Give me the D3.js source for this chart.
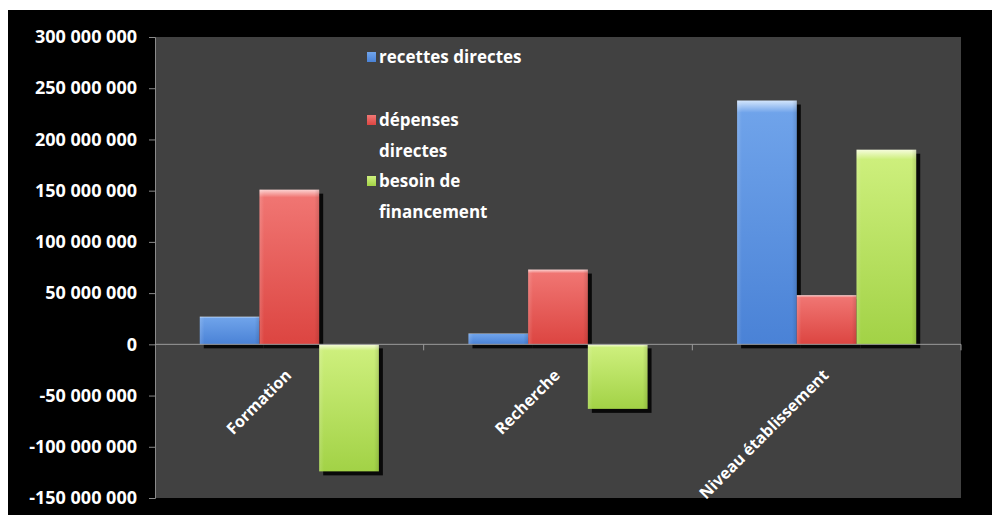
<!DOCTYPE html>
<html>
<head>
<meta charset="utf-8">
<script src="https://cdn.jsdelivr.net/npm/d3@7"></script>
<style>
  html, body { margin: 0; padding: 0; background: #fff; }
  svg { display: block; }
</style>
</head>
<body>
<svg id="chart" width="992" height="515"></svg>
<script>
// DATA
const categories = ["Formation", "Recherche", "Niveau établissement"];
const seriesNames = ["recettes directes", "dépenses directes", "besoin de financement"];
const recettes = [27000000, 10500000, 238000000];
const depenses = [151000000, 73000000, 48000000];
const besoin = [-124000000, -63000000, 190000000];
const yTicks = [-150000000, -100000000, -50000000, 0, 50000000, 100000000, 150000000, 200000000, 250000000, 300000000];

const values = [recettes, depenses, besoin];
const colors = [
  { top: "#d3e5fc", mid: "#6fa3ea", bot: "#4a82d6" },
  { top: "#fcd3d2", mid: "#f07572", bot: "#dc4541" },
  { top: "#f6fcdc", mid: "#cdef7c", bot: "#a2d246" }
];

const svg = d3.select("#chart");
const W = 992, H = 515;
const plot = { left: 155, right: 961, top: 37, bottom: 498 };
const font = "'Open Sans', sans-serif";

// backgrounds
svg.append("rect").attr("x", 8).attr("y", 10).attr("width", W - 8).attr("height", H - 10).attr("fill", "#000");
svg.append("rect")
  .attr("x", plot.left).attr("y", plot.top)
  .attr("width", plot.right - plot.left).attr("height", plot.bottom - plot.top)
  .attr("fill", "#414141");

// SCALES
const y = d3.scaleLinear().domain([-150000000, 300000000]).range([plot.bottom, plot.top]);
const x0 = d3.scaleBand().domain(categories).range([plot.left, plot.right]).padding(0);
const x1 = d3.scaleBand().domain(d3.range(3)).range([0, x0.bandwidth()]).paddingInner(0).paddingOuter(0.75);

const fr = d3.formatLocale({ decimal: ",", thousands: " ", grouping: [3], currency: ["", " €"], minus: "-" });
const fmt = fr.format(",");

// gradients
const defs = svg.append("defs");
colors.forEach((c, i) => {
  const g = defs.append("linearGradient").attr("id", "g" + i).attr("x1", 0).attr("y1", 0).attr("x2", 0).attr("y2", 1);
  g.append("stop").attr("offset", "0").attr("stop-color", c.top);
  g.append("stop").attr("offset", "0.05").attr("stop-color", c.mid);
  g.append("stop").attr("offset", "1").attr("stop-color", c.bot);
  const h = defs.append("linearGradient").attr("id", "h" + i).attr("x1", 0).attr("y1", 0).attr("x2", 1).attr("y2", 0);
  h.append("stop").attr("offset", "0").attr("stop-color", "#fff").attr("stop-opacity", 0.15);
  h.append("stop").attr("offset", "0.08").attr("stop-color", "#fff").attr("stop-opacity", 0);
  h.append("stop").attr("offset", "0.92").attr("stop-color", "#000").attr("stop-opacity", 0);
  h.append("stop").attr("offset", "1").attr("stop-color", "#000").attr("stop-opacity", 0.12);
});

// y axis
const yAxis = svg.append("g").attr("transform", `translate(${plot.left},0)`)
  .call(d3.axisLeft(y).tickValues(yTicks).tickSize(6).tickPadding(12).tickFormat(fmt));
yAxis.select(".domain").attr("stroke", "#8a8a8a");
yAxis.selectAll(".tick line").attr("stroke", "#8a8a8a");
yAxis.selectAll("text")
  .attr("fill", "#fff")
  .attr("font-family", font)
  .attr("font-weight", "bold")
  .attr("font-size", "18px");

// bars
const groups = svg.append("g").selectAll("g").data(categories).join("g")
  .attr("transform", d => `translate(${x0(d)},0)`);

groups.each(function (cat, ci) {
  const g = d3.select(this);
  values.forEach((arr, si) => {
    const v = arr[ci];
    const yTop = y(Math.max(0, v));
    const h = Math.abs(y(v) - y(0));
    g.append("rect").attr("x", x1(si) + 4).attr("y", yTop + 4).attr("width", x1.bandwidth()).attr("height", h)
      .attr("fill", "#000").attr("opacity", 0.85);
  });
  values.forEach((arr, si) => {
    const v = arr[ci];
    const yTop = y(Math.max(0, v));
    const h = Math.abs(y(v) - y(0));
    g.append("rect").attr("x", x1(si)).attr("y", yTop).attr("width", x1.bandwidth()).attr("height", h)
      .attr("fill", `url(#g${si})`);
    g.append("rect").attr("x", x1(si)).attr("y", yTop).attr("width", x1.bandwidth()).attr("height", h)
      .attr("fill", `url(#h${si})`);
  });
});

// zero line and category ticks
svg.append("line").attr("x1", plot.left).attr("x2", plot.right).attr("y1", y(0)).attr("y2", y(0))
  .attr("stroke", "#9a9a9a").attr("stroke-width", 1);
const catTicks = categories.slice(1).map(d => x0(d)).concat([plot.right]);
svg.append("g").selectAll("line").data(catTicks).join("line")
  .attr("x1", d => d).attr("x2", d => d)
  .attr("y1", y(0)).attr("y2", y(0) + 6)
  .attr("stroke", "#9a9a9a");

// category labels
svg.append("g").selectAll("text").data(categories).join("text")
  .attr("transform", d => `translate(${x0(d) + x0.bandwidth() / 2 + 3},${y(0) + 32}) rotate(-45)`)
  .attr("text-anchor", "end")
  .attr("fill", "#fff")
  .attr("font-family", font)
  .attr("font-weight", "bold")
  .attr("font-size", "16px")
  .text(d => d);

// legend
const legendItems = [
  { si: 0, lines: ["recettes directes"], y: 57 },
  { si: 1, lines: ["dépenses", "directes"], y: 120 },
  { si: 2, lines: ["besoin de", "financement"], y: 181 }
];
const leg = svg.append("g");
legendItems.forEach(item => {
  leg.append("rect").attr("x", 367).attr("y", item.y - 5).attr("width", 9).attr("height", 10)
    .attr("fill", `url(#g${item.si})`);
  item.lines.forEach((t, li) => {
    leg.append("text")
      .attr("x", 379).attr("y", item.y + li * 31)
      .attr("dy", "0.35em")
      .attr("fill", "#fff")
      .attr("font-family", font)
      .attr("font-weight", "bold")
      .attr("font-size", "17px")
      .text(t);
  });
});
</script>
</body>
</html>
